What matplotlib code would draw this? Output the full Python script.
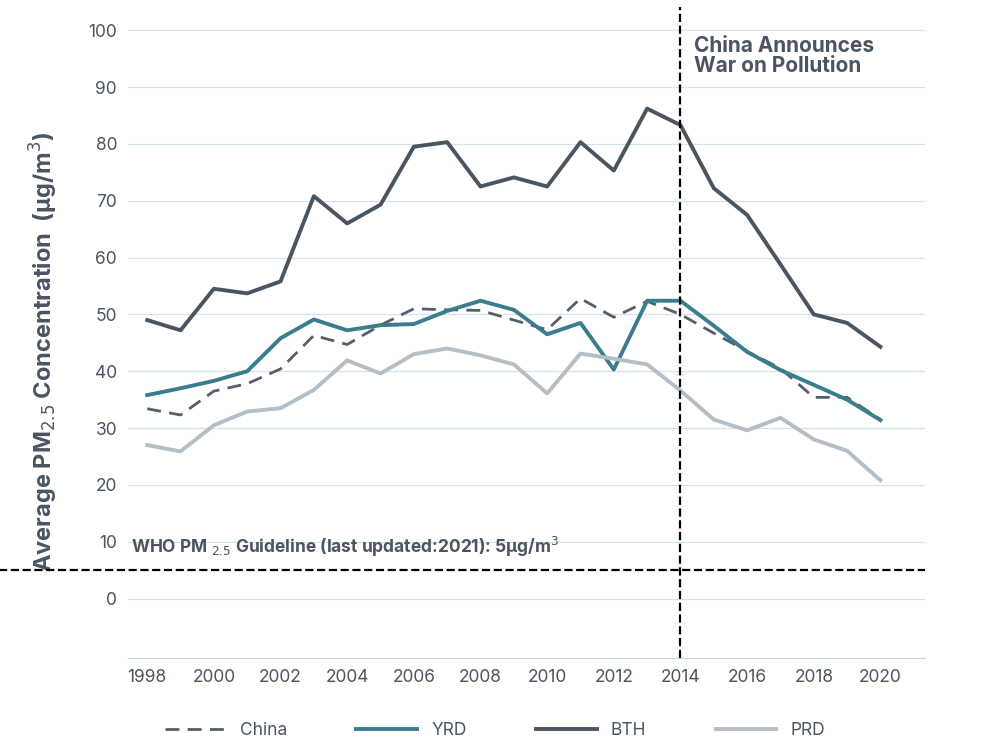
import matplotlib
matplotlib.use("Agg")
import matplotlib.pyplot as plt

years = list(range(1998, 2021))
bth = [49, 47.2, 54.5, 53.7, 55.8, 70.8, 66, 69.3, 79.5, 80.3, 72.5, 74.1, 72.5, 80.3, 75.3, 86.2, 83.3, 72.2, 67.5, 58.8, 50, 48.5, 44.3]
yrd = [35.8, 37, 38.3, 40, 45.8, 49.1, 47.2, 48.1, 48.3, 50.6, 52.4, 50.8, 46.5, 48.5, 40.3, 52.4, 52.4, 48, 43.4, 40.2, 37.6, 35, 31.4]
china = [33.4, 32.3, 36.5, 37.8, 40.4, 46.3, 44.7, 48.1, 51, 50.8, 50.7, 49, 47.3, 52.8, 49.5, 52.3, 50, 46.7, 43.5, 40.5, 35.4, 35.4, 31.5]
prd = [27, 25.9, 30.5, 32.9, 33.5, 36.7, 41.9, 39.6, 43, 44, 42.8, 41.2, 36.1, 43.1, 42.2, 41.2, 36.6, 31.5, 29.6, 31.8, 28, 26, 20.8]
who = 5
event_year = 2014

plt.rcParams['font.family'] = ['Inter', 'DejaVu Sans']
tc = '#4a5561'
fig = plt.figure(figsize=(9.94, 7.44), dpi=100)
ax = fig.add_axes([0.129, 0.116, 0.802, 0.874])
ax.plot(years, china, color='#555e6a', lw=2, ls=(0, (5, 3)), label='China')
ax.plot(years, yrd, color='#3a7d8c', lw=2.8, label='YRD')
ax.plot(years, bth, color='#4a5561', lw=2.8, label='BTH')
ax.plot(years, prd, color='#b4bec6', lw=2.8, label='PRD')
ax.axhline(who, color='black', ls='--', lw=1.6, xmin=-0.2, clip_on=False)
ax.axvline(event_year, color='black', ls='--', lw=1.6)
ax.set_xlim(1997.43, 2021.35)
ax.set_ylim(-10.4, 104)
ax.set_yticks(range(0, 101, 10))
ax.set_xticks(range(1998, 2021, 2))
ax.grid(axis='y', color='#d4e2ea', lw=0.9)
for s in ['top', 'right', 'left']:
    ax.spines[s].set_visible(False)
ax.spines['bottom'].set_color('#c8d4dc')
ax.tick_params(length=0, labelsize=12.5, colors=tc, pad=8)
ax.set_ylabel('Average PM$_{2.5}$ Concentration  (µg/m$^3$)', fontsize=17, color=tc, fontweight='bold', labelpad=14)
ax.yaxis.set_label_coords(-0.085, 0.47)
ax.text(2014.4, 99, 'China Announces\nWar on Pollution', fontsize=15, color=tc, fontweight='bold', va='top', linespacing=1.0)
ax.text(1997.5, 8, 'WHO PM $_{2.5}$ Guideline (last updated:2021): 5µg/m$^3$', fontsize=12.5, color=tc, fontweight='bold')
ax.legend(loc='upper center', bbox_to_anchor=(0.46, -0.075), ncol=4, frameon=False, fontsize=12.5,
          labelcolor=tc, handlelength=3.5, columnspacing=4)
fig.savefig('out.png', dpi=100)
